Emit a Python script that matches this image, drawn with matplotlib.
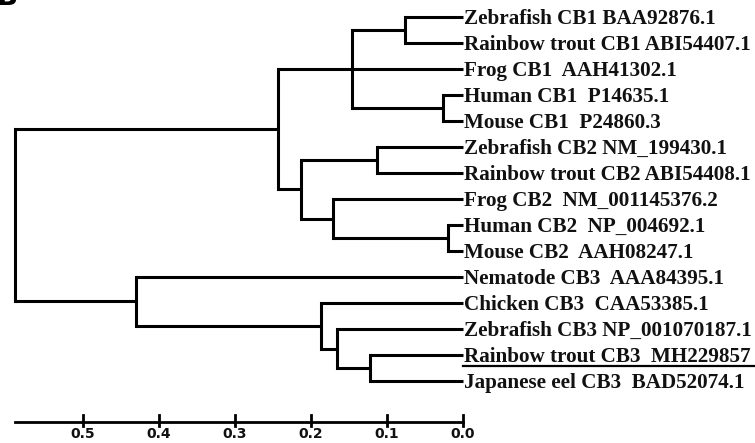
import matplotlib
matplotlib.use("Agg")
import matplotlib.pyplot as plt

# ---- data ----
leaves = [
    "Zebrafish CB1 BAA92876.1",
    "Rainbow trout CB1 ABI54407.1",
    "Frog CB1  AAH41302.1",
    "Human CB1  P14635.1",
    "Mouse CB1  P24860.3",
    "Zebrafish CB2 NM_199430.1",
    "Rainbow trout CB2 ABI54408.1",
    "Frog CB2  NM_001145376.2",
    "Human CB2  NP_004692.1",
    "Mouse CB2  AAH08247.1",
    "Nematode CB3  AAA84395.1",
    "Chicken CB3  CAA53385.1",
    "Zebrafish CB3 NP_001070187.1",
    "Rainbow trout CB3  MH229857",
    "Japanese eel CB3  BAD52074.1",
]
underlined = [13]

# internal nodes: name -> (height/distance, children)
node_names = ["cb1_fish", "cb1_mammal", "cb1", "cb2_fish", "cb2_mammal",
              "cb2_tetra", "cb2", "cb12", "cb3_eel", "cb3_fish", "cb3_vert",
              "cb3", "root"]
node_heights = [0.076, 0.026, 0.146, 0.113, 0.020,
                0.171, 0.213, 0.243, 0.122, 0.166, 0.187,
                0.430, 0.5895]
node_children = [[0, 1], [3, 4], ["cb1_fish", 2, "cb1_mammal"], [5, 6], [8, 9],
                 [7, "cb2_mammal"], ["cb2_fish", "cb2_tetra"], ["cb1", "cb2"],
                 [13, 14], [12, "cb3_eel"], [11, "cb3_fish"],
                 [10, "cb3_vert"], ["cb12", "cb3"]]

scale_ticks = [0.5, 0.4, 0.3, 0.2, 0.1, 0.0]
scale_start = 0.5895

# ---- drawing ----
W, H = 755, 443
fig = plt.figure(figsize=(W / 100, H / 100), dpi=100)
ax = fig.add_axes([0, 0, 1, 1])
ax.set_xlim(463 / 760, (463 - W) / 760)
ax.set_ylim((H - 17) / 26, -17 / 26)
ax.axis("off")

lw = 2.2
col = "black"
nodes = {n: (h, c) for n, h, c in zip(node_names, node_heights, node_children)}


def pos(key):
    if isinstance(key, int):
        return 0.0, float(key)
    h, ch = nodes[key]
    ys = [pos(c)[1] for c in ch]
    return h, (ys[0] + ys[-1]) / 2


def draw(key):
    h, ch = nodes[key]
    cps = [pos(c) for c in ch]
    ax.plot([h, h], [cps[0][1], cps[-1][1]], color=col, lw=lw,
            solid_capstyle="projecting")
    for c, (ch_h, ch_y) in zip(ch, cps):
        ax.plot([h, ch_h], [ch_y, ch_y], color=col, lw=lw,
                solid_capstyle="butt")
        if not isinstance(c, int):
            draw(c)


draw("root")

for i, name in enumerate(leaves):
    ax.text(-0.001, i + 0.08, name, ha="left", va="center",
            family="Liberation Serif", fontweight="bold", fontsize=15.2,
            color="#111111")
    if i in underlined:
        ax.plot([0.0, (463 - W) / 760], [i + 0.43, i + 0.43], color=col, lw=1.6)

# scale bar
sy = (422 - 17) / 26
ax.plot([scale_start, 0.0], [sy, sy], color=col, lw=2.0)
for t in scale_ticks:
    ax.plot([t, t], [sy - 0.27, sy + 0.16], color=col, lw=2.0)
    ax.text(t, (434 - 17) / 26, f"{t:.1f}", ha="center", va="center",
            family="DejaVu Sans", fontweight="bold", fontsize=10, color="#111111")

# panel label (cut by the top edge, as in the reference)
fig.text(-0.004, 1.006, "B", ha="left", va="center", family="DejaVu Sans",
         fontweight="bold", fontsize=20)

fig.savefig("out.png", dpi=100)
